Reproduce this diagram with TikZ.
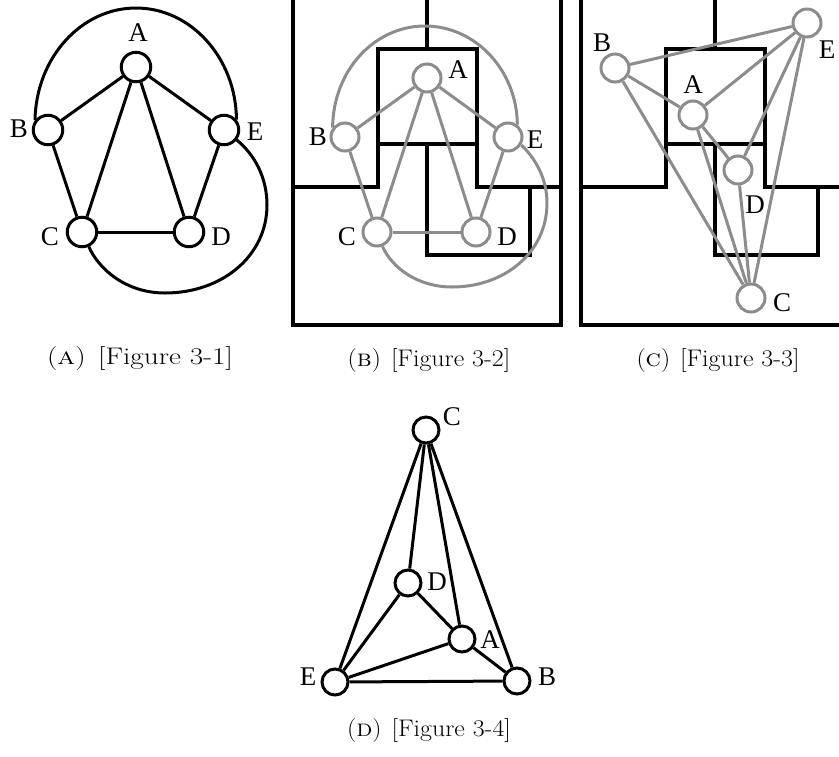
\documentclass[tikz,border=0pt]{standalone}
\usepackage{fontspec}
\usepackage{graphicx}
\newfontfamily\labfont{Liberation Serif}
\definecolor{gr}{RGB}{140,140,140}
\begin{document}
\begin{tikzpicture}[x=1pt,y=1pt,
  vtx/.style={circle,draw,line width=3pt,fill=white,minimum size=28pt,inner sep=0pt},
  avtx/.style={vtx,minimum size=29.5pt},
  gvtx/.style={vtx,draw=gr},
  dvtx/.style={vtx,minimum size=26pt},
  edgeline/.style={line width=3pt},
  gedge/.style={line width=3pt,draw=gr},
  frameline/.style={line width=3.5pt},
  lab/.style={font=\labfont\fontsize{27}{27}\selectfont,inner sep=0pt},
  captext/.style={font=\fontsize{24}{28}\selectfont,inner sep=0pt}]
\useasboundingbox (0,0) rectangle (839,-756);

% ---------- Panel A ----------
\node[avtx] (a1A) at (136,-67) {};
\node[avtx] (a1B) at (48,-130) {};
\node[avtx] (a1E) at (224,-130) {};
\node[avtx] (a1C) at (82,-232) {};
\node[avtx] (a1D) at (189,-232) {};
\draw[edgeline] (a1A) -- (a1B);
\draw[edgeline] (a1A) -- (a1E);
\draw[edgeline] (a1A) -- (a1C);
\draw[edgeline] (a1A) -- (a1D);
\draw[edgeline] (a1B) -- (a1C);
\draw[edgeline] (a1E) -- (a1D);
\draw[edgeline] (a1C) -- (a1D);
\draw[edgeline] (a1B.143) .. controls (36,-58) and (81,-8) .. (136,-8)
  .. controls (191,-8) and (236,-58) .. (a1E.40);
\draw[edgeline] (a1E.-38) .. controls (255,-155) and (267,-178) .. (267,-205)
  .. controls (267,-256) and (222,-293) .. (165,-293)
  .. controls (125,-293) and (98,-268) .. (a1C.-65);
\node[lab] (a1lA) at (138,-33) {A};
\node[lab] (a1lB) at (19,-129) {B};
\node[lab] (a1lE) at (255,-132) {E};
\node[lab] (a1lC) at (50,-237) {C};
\node[lab] (a1lD) at (221,-237) {D};

% ---------- Panel B ----------
\draw[frameline] (293,0) -- (293,-325) -- (561,-325) -- (561,0);
\draw[frameline] (427,0) -- (427,-49);
\draw[frameline] (293,-187) -- (378,-187) -- (378,-49) -- (477,-49) -- (477,-187) -- (561,-187);
\draw[frameline] (378,-144) -- (477,-144);
\draw[frameline] (427,-144) -- (427,-255) -- (530,-255) -- (530,-187);
\node[gvtx] (b2A) at (427,-78) {};
\node[gvtx] (b2B) at (345,-137) {};
\node[gvtx] (b2E) at (508,-137) {};
\node[gvtx] (b2C) at (377,-232) {};
\node[gvtx] (b2D) at (476,-232) {};
\draw[gedge] (b2A) -- (b2B);
\draw[gedge] (b2A) -- (b2E);
\draw[gedge] (b2A) -- (b2C);
\draw[gedge] (b2A) -- (b2D);
\draw[gedge] (b2B) -- (b2C);
\draw[gedge] (b2E) -- (b2D);
\draw[gedge] (b2C) -- (b2D);
\draw[gedge] (b2B.143) .. controls (333,-71) and (374,-26) .. (425,-26)
  .. controls (476,-26) and (517,-71) .. (b2E.53);
\draw[gedge] (b2E.-31) .. controls (535,-158) and (547,-178) .. (547,-203)
  .. controls (547,-252) and (505,-287) .. (452,-287)
  .. controls (418,-287) and (392,-268) .. (b2C.-69);
\node[lab] (b2lA) at (458,-70) {A};
\node[lab] (b2lB) at (318,-137) {B};
\node[lab] (b2lE) at (535,-140) {E};
\node[lab] (b2lC) at (347,-237) {C};
\node[lab] (b2lD) at (507,-237) {D};

% ---------- Panel C ----------
\draw[frameline] (581,0) -- (581,-325) -- (839,-325);
\draw[frameline] (715,0) -- (715,-49);
\draw[frameline] (581,-187) -- (666,-187) -- (666,-49) -- (765,-49) -- (765,-187) -- (839,-187);
\draw[frameline] (666,-144) -- (765,-144);
\draw[frameline] (715,-144) -- (715,-255) -- (818,-255) -- (818,-187);
\node[gvtx] (c3B) at (615,-68) {};
\node[gvtx] (c3E) at (807,-23) {};
\node[gvtx] (c3A) at (693,-115) {};
\node[gvtx] (c3D) at (738,-170) {};
\node[gvtx] (c3C) at (751,-298) {};
\draw[gedge] (c3B) -- (c3E);
\draw[gedge] (c3B) -- (c3A);
\draw[gedge] (c3B) -- (c3C);
\draw[gedge] (c3A) -- (c3E);
\draw[gedge] (c3A) -- (c3D);
\draw[gedge] (c3A) -- (c3C);
\draw[gedge] (c3E) -- (c3D);
\draw[gedge] (c3E) -- (c3C);
\draw[gedge] (c3D) -- (c3C);
\node[lab] (c3lB) at (602,-43) {B};
\node[lab] (c3lE) at (827,-50) {E};
\node[lab] (c3lA) at (693,-85) {A};
\node[lab] (c3lD) at (755,-205) {D};
\node[lab] (c3lC) at (782,-303) {C};

% ---------- Panel D ----------
\node[dvtx] (d4C) at (426,-430) {};
\node[dvtx] (d4D) at (408,-583) {};
\node[dvtx] (d4A) at (462,-639) {};
\node[dvtx] (d4E) at (335,-682) {};
\node[dvtx] (d4B) at (517,-681) {};
\draw[edgeline] (d4C) -- (d4E);
\draw[edgeline] (d4C) -- (d4D);
\draw[edgeline] (d4C) -- (d4A);
\draw[edgeline] (d4C) -- (d4B);
\draw[edgeline] (d4D) -- (d4E);
\draw[edgeline] (d4D) -- (d4A);
\draw[edgeline] (d4A) -- (d4E);
\draw[edgeline] (d4A) -- (d4B);
\draw[edgeline] (d4E) -- (d4B);
\node[lab] (d4lC) at (452,-417) {C};
\node[lab] (d4lD) at (437,-582) {D};
\node[lab] (d4lA) at (490,-640) {A};
\node[lab] (d4lE) at (308,-677) {E};
\node[lab] (d4lB) at (547,-677) {B};

% ---------- Captions ----------
\node[captext] (capA) at (140,-359) {\scalebox{1.22}[1]{(\textsc{a})\hspace{3pt} [Figure 3-1]}};
\node[captext] (capB) at (429,-361) {\scalebox{1.08}[1]{(\textsc{b})\hspace{2pt} [Figure 3-2]}};
\node[captext] (capC) at (718,-361) {\scalebox{1.08}[1]{(\textsc{c})\hspace{2pt} [Figure 3-3]}};
\node[captext] (capD) at (429,-731) {\scalebox{1.08}[1]{(\textsc{d})\hspace{2pt} [Figure 3-4]}};
\end{tikzpicture}
\end{document}
